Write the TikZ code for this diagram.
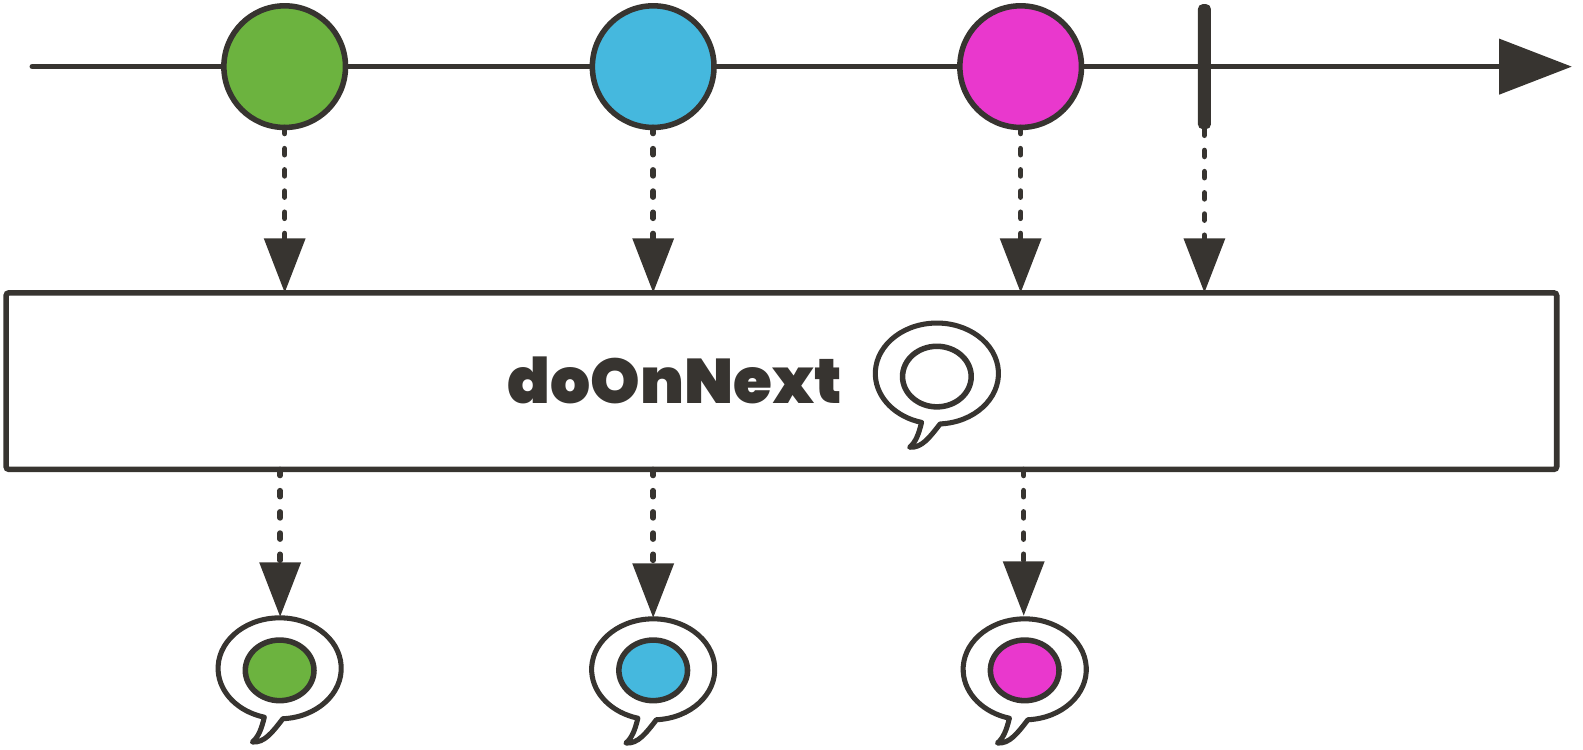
\documentclass[tikz,border=0pt]{standalone}
\usepackage{fontspec}
\usepackage{graphicx}
\newfontfamily\opfont[UprightFont=*-Black,BoldFont=*-Black]{Poppins}
\usetikzlibrary{arrows.meta,shapes.geometric,calc}
\definecolor{ink}{HTML}{373430}
\definecolor{leaf}{HTML}{6CB33F}
\definecolor{sky}{HTML}{45B8DE}
\definecolor{rose}{HTML}{E938CD}
\def\u{0.5048pt}
\tikzset{
  x=\u, y=-\u,
  axisline/.style={draw=ink,line width=5.5*\u,line cap=round,-{Triangle[width=54*\u,length=72*\u]}},
  marble/.style={circle,draw=ink,line width=5.5*\u,minimum size=120.5*\u,inner sep=0pt,outer sep=0pt},
  stopbar/.style={rectangle,fill=ink,rounded corners=5*\u,minimum width=13*\u,minimum height=124*\u,inner sep=0pt,outer sep=0pt},
  flow/.style={draw=ink,line width=5.5*\u,line cap=round,dash pattern=on 6*\u off 15*\u,-{Triangle[width=40*\u,length=54*\u]}},
  opbox/.style={rectangle,draw=ink,fill=white,line width=5.5*\u,rounded corners=3*\u,minimum width=1536*\u,minimum height=175*\u,inner sep=0pt,outer sep=0pt},
  oplabel/.style={text=ink,inner sep=0pt,outer sep=0pt,anchor=base west},
  bubbleline/.style={draw=ink,fill=white,line width=5*\u,line join=round},
  core/.style={ellipse,draw=ink,line width=5.5*\u,inner sep=0pt,outer sep=0pt,minimum width=68*\u,minimum height=60*\u}
}
\newcommand{\speech}[2]{%
  \path[bubbleline,shift={(#1,#2)}] (3.2,49.9)
    arc[start angle=-87,end angle=255.6,x radius=61*\u,y radius=50*\u]
    .. controls (-18,60) and (-21,68) .. (-27,73)
    .. controls (-15,74) and (-7,63) .. (3.2,49.9) -- cycle;
}
\begin{document}
\begin{tikzpicture}
\useasboundingbox (0,0) rectangle (1568,742);
\coordinate (axisL) at (32,66);
\coordinate (axisR) at (1557,66);
\draw[axisline] (axisL) -- (axisR);
\node[marble,fill=leaf] (m1) at (282,66) {};
\node[marble,fill=sky] (m2) at (647,66) {};
\node[marble,fill=rose] (m3) at (1011,66) {};
\node[stopbar] (stop) at (1193,66) {};
\node[opbox] (op) at (774,377.5) {};
\node[oplabel] (label) at (503,400) {\resizebox{167pt}{!}{\opfont\fontsize{28pt}{30pt}\selectfont doOnNext}};
\speech{928}{370}
\node[core,fill=white] (c0) at (928,373) {};
\speech{277}{662}
\speech{647}{663}
\speech{1015}{663}
\node[core,fill=leaf] (c1) at (277,664) {};
\node[core,fill=sky] (c2) at (647,664) {};
\node[core,fill=rose] (c3) at (1015,664) {};
\coordinate (t1) at (277.5,611);
\coordinate (t2) at (647,612);
\coordinate (t3) at (1014,610);
\draw[flow] (m1.south) -- (m1.south |- op.north);
\draw[flow] (m2.south) -- (m2.south |- op.north);
\draw[flow] (m3.south) -- (m3.south |- op.north);
\draw[flow] (stop.south) -- (stop.south |- op.north);
\draw[flow] (t1 |- op.south) -- (t1);
\draw[flow] (t2 |- op.south) -- (t2);
\draw[flow] (t3 |- op.south) -- (t3);
\end{tikzpicture}
\end{document}
